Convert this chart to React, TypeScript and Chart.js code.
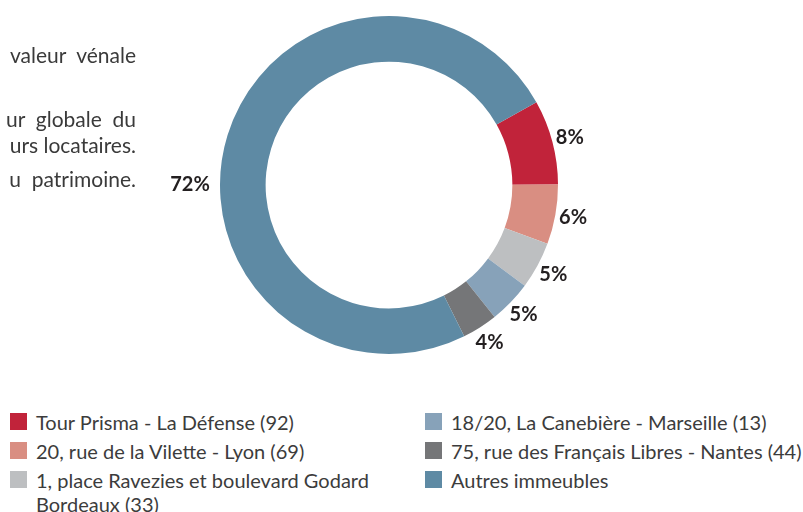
import React, { useEffect, useRef } from "react";
import { Chart, registerables } from "chart.js";

Chart.register(...registerables);

const labels = [
  "Tour Prisma - La Défense (92)",
  "20, rue de la Vilette - Lyon (69)",
  "1, place Ravezies et boulevard Godard\nBordeaux (33)",
  "18/20, La Canebière - Marseille (13)",
  "75, rue des Français Libres - Nantes (44)",
  "Autres immeubles",
];
const shares = [8.1, 5.7, 4.5, 4.1, 3.4, 74.2];
const percentLabels = ["8%", "6%", "5%", "5%", "4%", "72%"];
const colors = ["#C1233A", "#D98E82", "#BDBFC1", "#87A2B9", "#757678", "#5E8AA4"];
const sideText = ["valeur  vénale", "ur  globale  du", "urs locataires.", "u  patrimoine."];

const FONT = "Lato, 'Open Sans', sans-serif";

const labelPlugin = {
  id: "sliceLabels",
  afterDatasetsDraw(chart: any) {
    const ctx = chart.ctx;
    const meta = chart.getDatasetMeta(0);
    const last = meta.data.length - 1;
    ctx.save();
    ctx.fillStyle = "#231F20";
    ctx.font = `bold 20px ${FONT}`;
    ctx.textAlign = "center";
    ctx.textBaseline = "middle";
    meta.data.forEach((arc: any, i: number) => {
      const p = arc.getProps(["startAngle", "endAngle", "outerRadius", "x", "y"], true);
      const mid = i === last ? Math.PI : (p.startAngle + p.endAngle) / 2;
      const r = p.outerRadius + (i === last ? 30 : 18);
      ctx.fillText(percentLabels[i], p.x + r * Math.cos(mid), p.y + r * Math.sin(mid));
    });
    ctx.restore();
  },
};

export default function App() {
  const ref = useRef<HTMLCanvasElement>(null);
  useEffect(() => {
    document.body.style.margin = "0";
    const chart = new Chart(ref.current!, {
      type: "doughnut",
      data: {
        labels,
        datasets: [
          {
            data: shares,
            backgroundColor: colors,
            borderWidth: 0,
            hoverOffset: 0,
          },
        ],
      },
      options: {
        animation: false,
        responsive: true,
        maintainAspectRatio: false,
        rotation: 60.7,
        cutout: "73%",
        layout: { padding: { left: 220, right: 245, top: 16, bottom: 16 } },
        plugins: { legend: { display: false }, tooltip: { enabled: false } },
      },
      plugins: [labelPlugin],
    });
    return () => chart.destroy();
  }, []);

  const sideTops = [42, 106, 132, 166];
  const legendItem = (i: number) => (
    <div key={i} style={{ display: "flex", alignItems: "flex-start", height: i === 2 ? 53 : 29 }}>
      <div style={{ width: 17, height: 17, background: colors[i], marginTop: 3, flexShrink: 0 }} />
      <div style={{ marginLeft: 9, whiteSpace: "pre", lineHeight: "24px" }}>{labels[i]}</div>
    </div>
  );

  return (
    <div style={{ position: "relative", width: 803, height: 512, overflow: "hidden", fontFamily: FONT, background: "#fff" }}>
      <div style={{ position: "absolute", left: 0, top: 0, width: 803, height: 370 }}>
        <canvas ref={ref} />
      </div>
      {sideText.map((t, i) => (
        <div
          key={i}
          style={{
            position: "absolute",
            right: 803 - 136,
            top: sideTops[i],
            fontSize: 21,
            lineHeight: "26px",
            color: "#3A3A3A",
            whiteSpace: "pre",
            textAlign: "right",
          }}
        >
          {t}
        </div>
      ))}
      <div style={{ position: "absolute", left: 10, top: 410, fontSize: 20, color: "#3C3C3C" }}>
        {[0, 1, 2].map(legendItem)}
      </div>
      <div style={{ position: "absolute", left: 425, top: 410, fontSize: 20, color: "#3C3C3C" }}>
        {[3, 4, 5].map(legendItem)}
      </div>
    </div>
  );
}
